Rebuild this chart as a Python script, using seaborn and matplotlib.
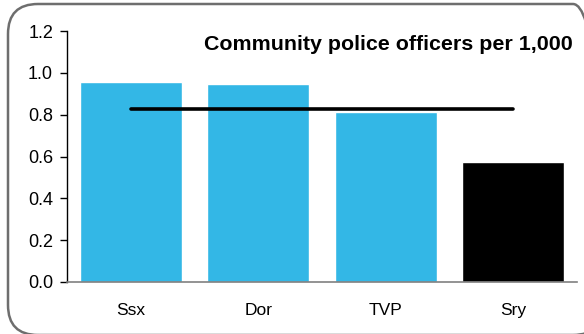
import matplotlib
matplotlib.use("Agg")
import matplotlib.pyplot as plt
import seaborn as sns
import pandas as pd
from matplotlib.patches import FancyBboxPatch

forces = ['Ssx', 'Dor', 'TVP', 'Sry']
officers = [0.955, 0.945, 0.815, 0.575]
bar_colors = ['#33B7E6', '#33B7E6', '#33B7E6', '#000000']
average = 0.826
yticks = [0, 0.2, 0.4, 0.6, 0.8, 1.0, 1.2]
title = 'Community police officers per 1,000'

sns.set_style('white')
plt.rcParams['font.family'] = ['Liberation Sans', 'DejaVu Sans']
plt.rcParams['text.color'] = 'black'
plt.rcParams['xtick.color'] = 'black'
plt.rcParams['ytick.color'] = 'black'

df = pd.DataFrame({'force': forces, 'value': officers})

fig = plt.figure(figsize=(5.84, 3.34), dpi=100)
ax = fig.add_axes([0.1147, 0.1557, 0.8733, 0.7513])

sns.barplot(data=df, x='force', y='value', hue='force', palette=bar_colors,
            width=0.8, legend=False, saturation=1, ax=ax)

# average line from first to last force
ax.plot([forces[0], forces[-1]], [average, average], color='black', lw=2.6)

ax.set_ylim(0, 1.2)
ax.set_xlim(-0.5, len(forces) - 0.5)
ax.set_yticks(yticks)
ax.set_yticklabels([f'{v:.1f}' for v in yticks])
ax.set_xlabel('')
ax.set_ylabel('')
ax.tick_params(axis='y', direction='out', length=5, width=1, color='black',
               labelsize=13, pad=5, left=True)
ax.tick_params(axis='x', length=0, labelsize=12.5, pad=15)

for side in ['top', 'right']:
    ax.spines[side].set_visible(False)
ax.spines['left'].set_color('black')
ax.spines['left'].set_linewidth(1)
ax.spines['bottom'].set_color('#808080')
ax.spines['bottom'].set_linewidth(1.2)

ax.text(0.992, 0.948, title, transform=ax.transAxes, ha='right', va='center',
        fontsize=15.4, fontweight='bold')

# rounded frame, in inches
border = FancyBboxPatch((0.08, -0.01), 5.95, 3.31,
                        boxstyle='round,pad=0,rounding_size=0.3',
                        transform=fig.dpi_scale_trans, facecolor='none',
                        edgecolor='#6E6E6E', linewidth=1.8, clip_on=False)
fig.patches.append(border)

fig.savefig('out.png', dpi=100)
